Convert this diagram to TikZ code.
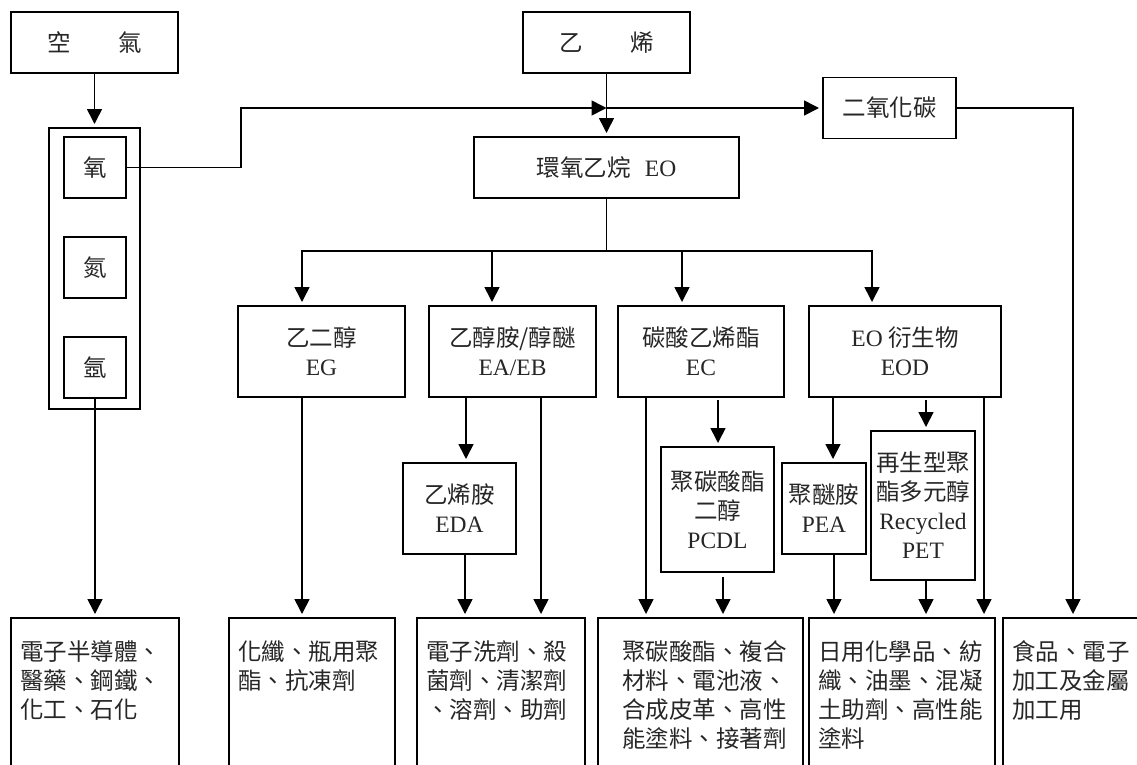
\documentclass[tikz,border=0pt]{standalone}
\usepackage{fontspec}
\setmainfont{Noto Sans CJK TC}
\newfontfamily\lat{Liberation Serif}
\usetikzlibrary{positioning,arrows.meta}
\tikzstyle{Caja}=[rectangle, draw=black, line width=1.8pt, inner sep=1pt, outer sep=0pt, align=center, text=black!85, font=\fontsize{23.5}{29}\selectfont]
\tikzstyle{CajaUso}=[Caja, anchor=north west, align=left, inner xsep=9pt, inner ysep=23pt, text depth=150pt]
\tikzstyle{Flecha}=[-{Triangle[width=15pt, length=15pt]}, line width=1.6pt, shorten >=4pt]

\begin{document}
\begin{tikzpicture}[x=1pt, y=-1pt]
	\useasboundingbox (0,0) rectangle (1137,764);
	\clip (0,0) rectangle (1137,764);

	%Nodos
	\node[Caja, minimum width=167pt, minimum height=61pt]	(air)		at (94.5,42.5)		{空\hspace{2em}氣};
	\node[Caja, minimum width=167pt, minimum height=61pt]	(ethylene)	at (606.5,42.5)		{乙\hspace{2em}烯};
	\node[Caja, minimum width=91pt, minimum height=281pt]	(gases)		at (94.5,268.5)		{};
	\node[Caja, minimum width=62pt, minimum height=61pt]	(oxygen)	at (95,167.5)		{氧};
	\node[Caja, minimum width=62pt, minimum height=61pt]	(nitrogen)	[below=39pt of oxygen]	{氮};
	\node[Caja, minimum width=62pt, minimum height=61pt]	(argon)		[below=39pt of nitrogen]	{氬};
	\node[Caja, minimum width=265pt, minimum height=61pt]	(eo)		at (606.5,167.5)	{環氧乙烷\hspace{0.6em}{\lat EO}};
	\node[Caja, minimum width=133pt, minimum height=61pt]	(co2)		at (889.5,108)		{二氧化碳};

	\node[Caja, minimum width=167pt, minimum height=91pt]	(eg)		at (321.5,351.5)	{乙二醇\\{\lat EG}};
	\node[Caja, minimum width=167pt, minimum height=91pt]	(ea_eb)		[right=24pt of eg]	{乙醇胺/醇醚\\{\lat EA/EB}};
	\node[Caja, minimum width=166pt, minimum height=91pt]	(ec)		[right=22pt of ea_eb]	{碳酸乙烯酯\\{\lat EC}};
	\node[Caja, minimum width=192pt, minimum height=91pt]	(eod)		[right=25pt of ec]	{{\lat EO} 衍生物\\{\lat EOD}};

	\node[Caja, minimum width=113pt, minimum height=91pt]	(eda)		at (459.5,508.5)	{乙烯胺\\{\lat EDA}};
	\node[Caja, minimum width=113pt, minimum height=125pt]	(pcdl)		at (717.5,509.5)	{聚碳酸酯\\二醇\\{\lat PCDL}};
	\node[Caja, minimum width=84pt, minimum height=91pt]	(pea)		at (824,508.5)		{聚醚胺\\{\lat PEA}};
	\node[Caja, minimum width=104pt, minimum height=149pt]	(rpet)		at (923,505.5)		{再生型聚\\酯多元醇\\{\lat Recycled}\\{\lat PET}};

	\node[CajaUso, text width=150pt]			(air_use)	at (11,618)	{電子半導體、\\醫藥、鋼鐵、\\化工、石化};
	\node[CajaUso, text width=148pt]			(eg_use)	at (229,618)	{化纖、瓶用聚\\酯、抗凍劑};
	\node[CajaUso, text width=150pt]			(ea_eb_use)	at (417,618)	{電子洗劑、殺\\菌劑、清潔劑\\、溶劑、助劑};
	\node[CajaUso, text width=157pt, inner xsep=24pt]	(ec_use)	at (598,618)	{聚碳酸酯、複合\\材料、電池液、\\合成皮革、高性\\能塗料、接著劑};
	\node[CajaUso, text width=168pt]			(eod_use)	at (809,618)	{日用化學品、紡\\織、油墨、混凝\\土助劑、高性能\\塗料};
	\node[CajaUso, text width=122pt]			(co2_use)	at (1003,618)	{食品、電子\\加工及金屬\\加工用};

	%Lineas
	\coordinate (elbow) at (241,108);
	\coordinate (cross) at (606.5,108);
	\coordinate (bus) at (606.5,251);

	\draw[Flecha] (air.south) -- (gases.north);
	\draw[Flecha, shorten >=0pt] (oxygen.east) -| (elbow) -- (cross);
	\draw[Flecha] (cross) -- (co2.west);
	\draw[Flecha] (ethylene.south) -- (eo.north);
	\draw[Flecha] (co2.east) -| (co2_use.north);

	\draw[Flecha] (eo.south) -- (bus) -| ([xshift=-19.5pt]eg.north);
	\draw[Flecha] (bus) -| ([xshift=-20.5pt]ea_eb.north);
	\draw[Flecha] (bus) -| ([xshift=-19pt]ec.north);
	\draw[Flecha] (bus) -| ([xshift=-33pt]eod.north);

	\draw[Flecha] (argon.south) -- (air_use.north);
	\draw[Flecha] ([xshift=-19.5pt]eg.south) -- ([xshift=-10pt]eg_use.north);
	\draw[Flecha] ([xshift=-46.5pt]ea_eb.south) -- ([xshift=6.5pt]eda.north);
	\draw[Flecha] ([xshift=5.5pt]eda.south) -- ([xshift=-36pt]ea_eb_use.north);
	\draw[Flecha] ([xshift=28.5pt]ea_eb.south) -- ([xshift=40pt]ea_eb_use.north);
	\draw[Flecha] ([xshift=-55pt]ec.south) -- ([xshift=-54.5pt]ec_use.north);
	\draw[Flecha, shorten <=3pt] ([xshift=17pt]ec.south) -- ([xshift=0.5pt]pcdl.north);
	\draw[Flecha, shorten <=5pt] ([xshift=5.5pt]pcdl.south) -- ([xshift=22.5pt]ec_use.north);
	\draw[Flecha] ([xshift=-72pt]eod.south) -- ([xshift=9pt]pea.north);
	\draw[Flecha, shorten <=3pt] ([xshift=21pt]eod.south) -- ([xshift=3pt]rpet.north);
	\draw[Flecha] ([xshift=79pt]eod.south) -- ([xshift=82pt]eod_use.north);
	\draw[Flecha] ([xshift=10pt]pea.south) -- ([xshift=-68pt]eod_use.north);
	\draw[Flecha] ([xshift=3pt]rpet.south) -- ([xshift=24pt]eod_use.north);

\end{tikzpicture}
\end{document}
